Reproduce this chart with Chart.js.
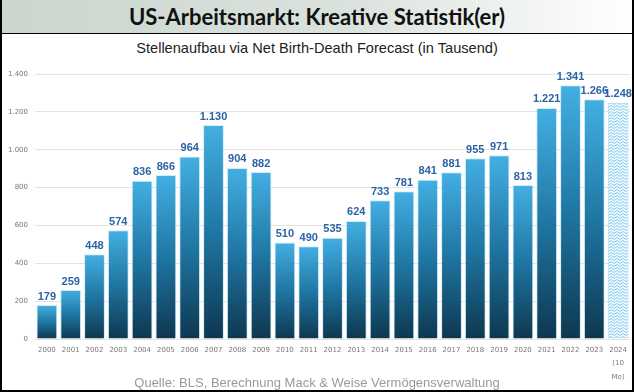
<!DOCTYPE html>
<html lang="de">
<head>
<meta charset="utf-8">
<script src="https://cdn.jsdelivr.net/npm/chart.js@4.4.1/dist/chart.umd.min.js"></script>
<style>
    body { margin: 0; background: #fff; }
    #frame {
        position: relative; width: 634px; height: 392px; box-sizing: border-box;
        border: 2px solid #000; border-top: none; overflow: hidden;
    }
    #title {
        position: absolute; left: 0; top: 0; width: 630px; height: 33px;
        border-bottom: 1.5px solid #000;
        background: linear-gradient(to right, #cbd6cf 0%, #dae2dd 55%, #ffffff 100%);
        font: bold 22px Lato, "Open Sans", sans-serif; color: #111;
        text-align: center; line-height: 34px;
    }
    #subtitle {
        position: absolute; left: 0; top: 40px; width: 630px; text-align: center;
        font: 14.6px "Liberation Sans", Arial, sans-serif; color: #222;
    }
    #source {
        position: absolute; left: 0; top: 375px; width: 630px; text-align: center;
        font: 13px "Liberation Sans", Arial, sans-serif; color: #9a9a9a;
    }
    #wrap { position: absolute; left: 0; top: 60px; width: 630px; height: 330px; }
</style>
</head>
<body>
<div id="frame">
    <div id="title">US-Arbeitsmarkt: Kreative Statistik(er)</div>
    <div id="subtitle">Stellenaufbau via Net Birth-Death Forecast (in Tausend)</div>
    <div id="wrap"><canvas id="chart" width="630" height="330"></canvas></div>
    <div id="source">Quelle: BLS, Berechnung Mack &amp; Weise Vermögensverwaltung</div>
</div>
<script>
// Daten
const years = ['2000', '2001', '2002', '2003', '2004', '2005', '2006', '2007', '2008', '2009',
    '2010', '2011', '2012', '2013', '2014', '2015', '2016', '2017', '2018', '2019',
    '2020', '2021', '2022', '2023', ['2024', '(10', 'Mo)']];
const jobs = [179, 259, 448, 574, 836, 866, 964, 1130, 904, 882,
    510, 490, 535, 624, 733, 781, 841, 881, 955, 971,
    813, 1221, 1341, 1266, 1248];
const yTicks = [0, 200, 400, 600, 800, 1000, 1200, 1400];

const fmt = v => String(v).replace(/\B(?=(\d{3})+(?!\d))/g, '.');

// hatch pattern for the partial year 2024
const makePattern = () => {
    const c = document.createElement('canvas');
    c.width = 6; c.height = 3;
    const g = c.getContext('2d');
    g.fillStyle = '#eef8fd';
    g.fillRect(0, 0, 6, 3);
    g.strokeStyle = '#86cdee';
    g.lineWidth = 1;
    g.beginPath();
    g.moveTo(0, 2.5); g.lineTo(3, 0.5); g.lineTo(6, 2.5);
    g.stroke();
    return g.createPattern(c, 'repeat');
};
const hatch = makePattern();

// bar fill: own gradient per bar, light on top, dark at the base
const barFill = (ctx) => {
    const chart = ctx.chart;
    if (ctx.dataIndex === jobs.length - 1) return hatch;
    const y = chart.scales.y;
    if (!y || !chart.chartArea) return '#1f7fb0';
    const top = y.getPixelForValue(jobs[ctx.dataIndex]);
    const base = y.getPixelForValue(0);
    const grad = chart.ctx.createLinearGradient(0, top, 0, base);
    grad.addColorStop(0, '#43afe3');
    grad.addColorStop(0.5, '#1f76a3');
    grad.addColorStop(1, '#0e3750');
    return grad;
};

const valueLabels = {
    id: 'valueLabels',
    afterDatasetsDraw(chart) {
        const ctx = chart.ctx;
        const meta = chart.getDatasetMeta(0);
        ctx.save();
        ctx.font = 'bold 11px "Liberation Sans", Arial, sans-serif';
        ctx.fillStyle = '#2c64a6';
        ctx.textAlign = 'center';
        ctx.textBaseline = 'bottom';
        meta.data.forEach((bar, i) => {
            ctx.fillText(fmt(jobs[i]), bar.x, bar.y - 3);
        });
        ctx.restore();
    }
};

new Chart(document.getElementById('chart'), {
    type: 'bar',
    data: {
        labels: years,
        datasets: [{
            data: jobs,
            backgroundColor: barFill,
            borderColor: (ctx) => ctx.dataIndex === jobs.length - 1 ? '#9fd8f2' : 'rgba(120,200,235,0.35)',
            borderWidth: 1,
            categoryPercentage: 1,
            barPercentage: 0.875
        }]
    },
    options: {
        responsive: false,
        animation: false,
        layout: { padding: { top: 14, right: 2 } },
        plugins: { legend: { display: false }, tooltip: { enabled: false } },
        scales: {
            x: {
                grid: { display: false, drawTicks: false },
                border: { display: false },
                ticks: {
                    color: '#777', padding: 4, maxRotation: 0, autoSkip: false,
                    font: { family: '"DejaVu Sans", Verdana, sans-serif', size: 7, lineHeight: 1.95 }
                },
                afterFit(scale) { scale.height = 51; }
            },
            y: {
                min: 0, max: 1400,
                afterBuildTicks(scale) { scale.ticks = yTicks.map(v => ({ value: v })); },
                grid: { color: '#e3e3e3', drawTicks: false },
                border: { display: false },
                ticks: {
                    color: '#777', padding: 7,
                    font: { family: '"DejaVu Sans", Verdana, sans-serif', size: 7 },
                    callback: v => fmt(v)
                },
                afterFit(scale) { scale.width = 33; }
            }
        }
    },
    plugins: [valueLabels]
});
</script>
</body>
</html>
